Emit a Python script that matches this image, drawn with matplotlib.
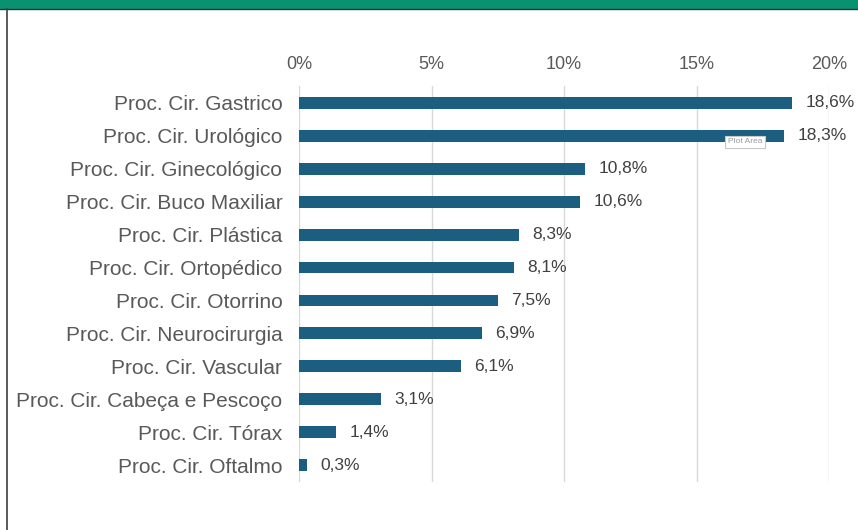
import matplotlib.pyplot as plt
from matplotlib.patches import Rectangle
from matplotlib.lines import Line2D

plt.rcParams['font.family'] = ['Liberation Sans', 'DejaVu Sans']

categories = [
    "Proc. Cir. Gastrico",
    "Proc. Cir. Urológico",
    "Proc. Cir. Ginecológico",
    "Proc. Cir. Buco Maxiliar",
    "Proc. Cir. Plástica",
    "Proc. Cir. Ortopédico",
    "Proc. Cir. Otorrino",
    "Proc. Cir. Neurocirurgia",
    "Proc. Cir. Vascular",
    "Proc. Cir. Cabeça e Pescoço",
    "Proc. Cir. Tórax",
    "Proc. Cir. Oftalmo",
]
values = [18.6, 18.3, 10.8, 10.6, 8.3, 8.1, 7.5, 6.9, 6.1, 3.1, 1.4, 0.3]
xticks = [0, 5, 10, 15, 20]

text_color = "#595959"
bar_color = "#1B5E80"

fig = plt.figure(figsize=(8.58, 5.30), dpi=100)
ax = fig.add_axes([0.3485, 0.0915, 0.6177, 0.7453])

ypos = list(range(len(categories)))
ax.barh(ypos, values, height=0.36, color=bar_color, zorder=3)
for y, v in zip(ypos, values):
    ax.text(v + 0.5, y, f"{v:.1f}".replace(".", ",") + "%", va="center", ha="left",
            fontsize=12.5, color="#404040")

ax.set_ylim(len(categories) - 0.5, -0.5)
ax.set_yticks(ypos)
ax.set_yticklabels(categories, fontsize=15, color=text_color)
ax.set_xlim(0, 20)
ax.set_xticks(xticks)
ax.set_xticklabels([f"{t}%" for t in xticks], fontsize=13, color=text_color)
ax.xaxis.tick_top()
ax.tick_params(axis="x", length=0, pad=10)
ax.tick_params(axis="y", length=0, pad=12)
ax.grid(axis="x", color="#D9D9D9", linewidth=1, zorder=0)
for s in ax.spines.values():
    s.set_visible(False)

# window chrome: green band and left border
fig.patches.append(Rectangle((0, 1 - 8 / 530), 1, 8 / 530, transform=fig.transFigure,
                             color="#0A9170", zorder=0))
fig.lines.append(Line2D([0, 1], [1 - 8.5 / 530] * 2, transform=fig.transFigure,
                        color="#1F3A30", linewidth=1))
fig.lines.append(Line2D([7 / 858] * 2, [0, 1 - 9 / 530], transform=fig.transFigure,
                        color="#404040", linewidth=1.2))

# hover tooltip visible in the screenshot
fig.text(745 / 858, 1 - 142 / 530, "Plot Area", fontsize=6, color="#9A9A9A",
         ha="center", va="center",
         bbox=dict(boxstyle="square,pad=0.3", fc="white", ec="#C8C8C8", lw=0.8))

fig.savefig("out.png", dpi=100)
